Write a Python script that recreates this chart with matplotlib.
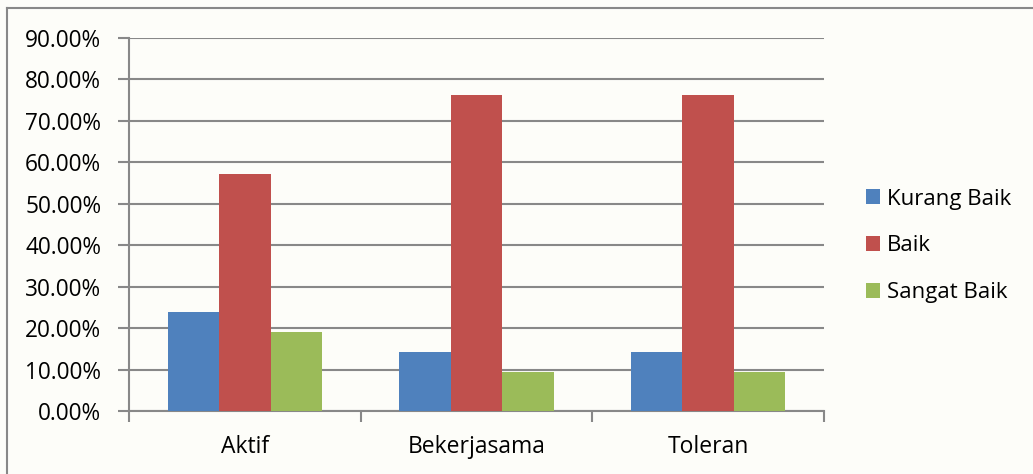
import matplotlib
matplotlib.use("Agg")
import matplotlib.pyplot as plt
import numpy as np
from matplotlib.lines import Line2D

categories = ["Aktif", "Bekerjasama", "Toleran"]
series_names = ["Kurang Baik", "Baik", "Sangat Baik"]
kurang_baik = [23.81, 14.29, 14.29]
baik = [57.14, 76.19, 76.19]
sangat_baik = [19.05, 9.52, 9.52]
colors = ["#4F81BD", "#C0504D", "#9BBB59"]
yticks = [0, 10, 20, 30, 40, 50, 60, 70, 80, 90]

fig = plt.figure(figsize=(10.33, 4.74), dpi=100)
fig.patch.set_facecolor("#FDFDF9")
ax = fig.add_axes([129/1033, 1-411/474, (824-129)/1033, (411-38)/474])
ax.set_facecolor("none")

x = np.arange(len(categories))
w = 0.222
for i, (vals, name, c) in enumerate(zip([kurang_baik, baik, sangat_baik], series_names, colors)):
    ax.bar(x + (i-1)*w, vals, w, color=c, label=name, zorder=3)

ax.set_xlim(-0.5, 2.5)
ax.set_ylim(0, 90)
ax.set_yticks(yticks)
ax.set_yticklabels([f"{v:.2f}%" for v in yticks], fontsize=16.3, family="Open Sans")
ax.yaxis.grid(True, color="#888888", linewidth=1.5, zorder=0)
ax.set_axisbelow(True)
ax.tick_params(axis="y", length=8, width=1.5, color="#888888", pad=12)
ax.set_xticks(x)
ax.set_xticklabels(categories, fontsize=16.5, family="Open Sans")
ax.set_xticks([-0.5, 0.5, 1.5, 2.5], minor=True)
ax.tick_params(axis="x", which="major", length=0, pad=17)
ax.tick_params(axis="x", which="minor", length=8, width=1.5, color="#888888")
for s in ["top", "right"]:
    ax.spines[s].set_visible(False)
for s in ["left", "bottom"]:
    ax.spines[s].set_color("#888888")
    ax.spines[s].set_linewidth(1.5)

leg = fig.legend(loc="upper left", bbox_to_anchor=(850/1033, 1-173/474), frameon=False,
                 prop={"family": "Open Sans", "size": 16}, handlelength=0.65, handleheight=0.65,
                 labelspacing=1.16, handletextpad=0.3, borderpad=0.2)

fig.add_artist(Line2D([7/1033, 7/1033], [0, 1-8/474], transform=fig.transFigure,
                      color="#888888", linewidth=1.5))
fig.add_artist(Line2D([7/1033, 1], [1-8/474, 1-8/474], transform=fig.transFigure,
                      color="#888888", linewidth=1.5))

fig.savefig("out.png", dpi=100, facecolor=fig.get_facecolor())
